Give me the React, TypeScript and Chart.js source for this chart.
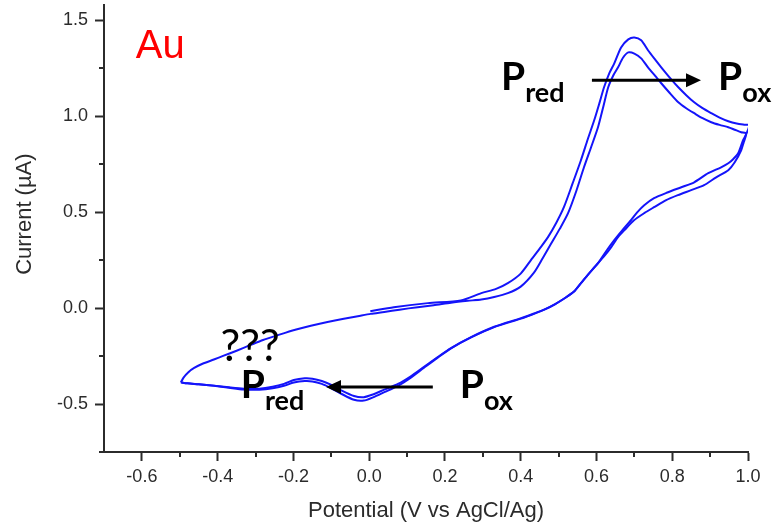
import React, { useEffect, useRef } from 'react';
import { Chart, registerables } from 'chart.js';

Chart.register(...registerables);

// ---- data ----
const cycle1X = [
  0.003, 0.065, 0.155, 0.242, 0.296, 0.335, 0.366, 0.400, 0.427, 0.450, 0.472, 0.494, 0.514, 0.537, 0.559,
  0.577, 0.594, 0.608, 0.620, 0.634, 0.647, 0.665, 0.684, 0.700, 0.718, 0.736, 0.755, 0.771, 0.794, 0.816,
  0.837, 0.858, 0.880, 0.903, 0.925, 0.948, 0.970, 0.990, 1.003,
  0.995, 0.987, 0.974, 0.960, 0.948, 0.929, 0.895, 0.858, 0.824, 0.789, 0.752, 0.726, 0.708, 0.691, 0.668,
  0.647, 0.625, 0.604, 0.580, 0.559, 0.540, 0.515, 0.490, 0.465, 0.435, 0.401, 0.330, 0.269, 0.216, 0.181,
  0.144, 0.110, 0.076, 0.040, 0.010, -0.014, -0.040, -0.075, -0.100, -0.125, -0.150, -0.170, -0.199, -0.225,
  -0.255, -0.290, -0.331, -0.370, -0.410, -0.450, -0.480, -0.497,
];
const cycle1Y = [
  -0.016, 0.005, 0.026, 0.040, 0.078, 0.100, 0.130, 0.180, 0.250, 0.310, 0.370, 0.445, 0.526, 0.650, 0.771,
  0.880, 0.979, 1.070, 1.151, 1.225, 1.276, 1.359, 1.401, 1.411, 1.396, 1.344, 1.295, 1.255, 1.200, 1.151,
  1.110, 1.073, 1.042, 1.016, 0.993, 0.974, 0.962, 0.956, 0.953,
  0.905, 0.875, 0.807, 0.775, 0.755, 0.734, 0.703, 0.656, 0.630, 0.604, 0.573, 0.536, 0.500, 0.458, 0.405,
  0.354, 0.295, 0.234, 0.180, 0.130, 0.085, 0.050, 0.020, -0.005, -0.028, -0.052, -0.097, -0.151, -0.208, -0.255,
  -0.307, -0.355, -0.395, -0.425, -0.450, -0.464, -0.458, -0.427, -0.400, -0.380, -0.368, -0.366, -0.375, -0.395,
  -0.410, -0.420, -0.420, -0.413, -0.404, -0.397, -0.392, -0.387,
];
const cycle2X = [
  -0.497, -0.490, -0.478, -0.462, -0.440, -0.410, -0.384, -0.350, -0.313, -0.280, -0.241, -0.200, -0.154, -0.110,
  -0.067, -0.030, 0.004, 0.040, 0.080, 0.128, 0.170, 0.216, 0.260, 0.296, 0.330, 0.366, 0.400, 0.435, 0.458,
  0.480, 0.503, 0.525, 0.547, 0.567, 0.586, 0.604, 0.618, 0.631, 0.645, 0.657, 0.670, 0.684, 0.700, 0.718,
  0.736, 0.755, 0.771, 0.794, 0.816, 0.837, 0.858, 0.880, 0.903, 0.925, 0.948, 0.965, 0.982, 0.995,
  0.988, 0.982, 0.965, 0.948, 0.916, 0.884, 0.850, 0.815, 0.784, 0.752, 0.726, 0.699, 0.678, 0.657, 0.639,
  0.622, 0.604, 0.580, 0.559, 0.540, 0.515, 0.490, 0.465, 0.435, 0.401, 0.330, 0.269, 0.216, 0.181, 0.144,
  0.110, 0.076, 0.040, 0.010, -0.014, -0.040, -0.075, -0.100, -0.125, -0.150, -0.170, -0.199, -0.225, -0.255,
  -0.290, -0.331, -0.370, -0.410, -0.450, -0.480, -0.497,
];
const cycle2Y = [
  -0.387, -0.362, -0.335, -0.312, -0.290, -0.268, -0.248, -0.222, -0.192, -0.166, -0.141, -0.115, -0.092, -0.072,
  -0.055, -0.042, -0.030, -0.020, -0.008, 0.005, 0.015, 0.028, 0.038, 0.045, 0.058, 0.078, 0.112, 0.185, 0.260,
  0.335, 0.413, 0.495, 0.612, 0.734, 0.840, 0.943, 1.050, 1.151, 1.215, 1.255, 1.305, 1.333, 1.327, 1.302,
  1.255, 1.210, 1.172, 1.120, 1.073, 1.042, 1.016, 0.990, 0.969, 0.955, 0.943, 0.930, 0.917, 0.911,
  0.860, 0.823, 0.760, 0.719, 0.682, 0.641, 0.615, 0.589, 0.563, 0.526, 0.495, 0.458, 0.415, 0.370, 0.318,
  0.275, 0.234, 0.180, 0.130, 0.085, 0.050, 0.020, -0.005, -0.030, -0.055, -0.099, -0.153, -0.210, -0.258, -0.312,
  -0.362, -0.405, -0.438, -0.465, -0.482, -0.478, -0.445, -0.418, -0.395, -0.382, -0.380, -0.388, -0.405, -0.418,
  -0.425, -0.424, -0.415, -0.405, -0.397, -0.392, -0.387,
];

const xTickValues = [-0.6, -0.4, -0.2, 0.0, 0.2, 0.4, 0.6, 0.8, 1.0];
const yTickValues = [-0.5, 0.0, 0.5, 1.0, 1.5];
const xMinorTicks = [-0.5, -0.3, -0.1, 0.1, 0.3, 0.5, 0.7, 0.9];
const yMinorTicks = [-0.75, -0.25, 0.25, 0.75, 1.25];
const xRange = [-0.7, 1.0];
const yRange = [-0.75, 1.58];

const xTitle = 'Potential (V vs AgCl/Ag)';
const yTitle = 'Current (\u00B5A)';
const sampleLabel = 'Au';
const speciesLabels = ['P', 'red', 'ox', '???'];

const SANS = "'Liberation Sans', Arial, sans-serif";
const CAL = "Lato, 'Open Sans', sans-serif";
const AXIS = '#2b2b2b';
const CURVE = 'rgb(20,20,250)';

const decorPlugin = {
  id: 'decor',
  afterDraw(chart: any) {
    const { ctx, chartArea } = chart;
    const xs = chart.scales.x;
    const ys = chart.scales.y;
    const px = (v: number) => xs.getPixelForValue(v);
    const py = (v: number) => ys.getPixelForValue(v);
    ctx.save();

    // minor ticks
    ctx.strokeStyle = AXIS;
    ctx.lineWidth = 2;
    xMinorTicks.forEach((v) => {
      const p = Math.round(px(v));
      ctx.beginPath();
      ctx.moveTo(p, chartArea.bottom);
      ctx.lineTo(p, chartArea.bottom + 5);
      ctx.stroke();
    });
    yMinorTicks.forEach((v) => {
      const p = Math.round(py(v));
      ctx.beginPath();
      ctx.moveTo(chartArea.left - 5, p);
      ctx.lineTo(chartArea.left, p);
      ctx.stroke();
    });

    // y axis title
    ctx.save();
    ctx.translate(25, py(0.49));
    ctx.rotate(-Math.PI / 2);
    ctx.font = `22px ${SANS}`;
    ctx.fillStyle = AXIS;
    ctx.textAlign = 'center';
    ctx.textBaseline = 'middle';
    ctx.fillText(yTitle, 0, 0);
    ctx.restore();

    // sample label
    ctx.font = `40px ${SANS}`;
    ctx.fillStyle = '#ff0000';
    ctx.textAlign = 'left';
    ctx.textBaseline = 'alphabetic';
    ctx.fillText(sampleLabel, px(-0.611) - 2, py(1.302));

    // species labels
    const drawSpecies = (sub: string, xv: number, yv: number) => {
      ctx.fillStyle = '#000';
      ctx.font = `bold 39px ${CAL}`;
      const x0 = px(xv) - 3;
      const y0 = py(yv);
      ctx.fillText(speciesLabels[0], x0, y0);
      const w = ctx.measureText(speciesLabels[0]).width;
      ctx.font = `bold 27px ${CAL}`;
      ctx.fillText(sub, x0 + w, y0 + 12);
    };
    drawSpecies(speciesLabels[1], 0.356, 1.135);
    drawSpecies(speciesLabels[2], 0.929, 1.135);
    drawSpecies(speciesLabels[1], -0.331, -0.469);
    drawSpecies(speciesLabels[2], 0.247, -0.469);

    ctx.font = `44px ${CAL}`;
    ctx.fillStyle = '#000';
    ctx.fillText(speciesLabels[3], px(-0.387) - 2, py(-0.276));

    // arrows
    const arrow = (x1: number, x2: number, yv: number) => {
      const a = px(x1);
      const b = px(x2);
      const yy = py(yv);
      const dir = Math.sign(b - a);
      const head = 15;
      ctx.strokeStyle = '#000';
      ctx.lineWidth = 3;
      ctx.beginPath();
      ctx.moveTo(a, yy);
      ctx.lineTo(b - dir * head, yy);
      ctx.stroke();
      ctx.fillStyle = '#000';
      ctx.beginPath();
      ctx.moveTo(b, yy);
      ctx.lineTo(b - dir * head, yy - 7);
      ctx.lineTo(b - dir * head, yy + 7);
      ctx.closePath();
      ctx.fill();
    };
    arrow(0.588, 0.876, 1.1875);
    arrow(0.168, -0.114, -0.411);

    ctx.restore();
  },
};

export default function App() {
  const ref = useRef<HTMLCanvasElement>(null);

  useEffect(() => {
    if (!ref.current) return;
    const lineStyle = {
      showLine: true,
      borderColor: CURVE,
      backgroundColor: CURVE,
      borderWidth: 2,
      pointRadius: 0,
      tension: 0.25,
      fill: false,
    };
    const chart = new Chart(ref.current, {
      type: 'scatter',
      data: {
        datasets: [
          { ...lineStyle, data: cycle1X.map((v, i) => ({ x: v, y: cycle1Y[i] })) },
          { ...lineStyle, data: cycle2X.map((v, i) => ({ x: v, y: cycle2Y[i] })) },
        ],
      },
      options: {
        animation: false,
        responsive: false,
        devicePixelRatio: 1,
        layout: { padding: { left: 0, top: 5, right: 27, bottom: 0 } },
        plugins: { legend: { display: false }, tooltip: { enabled: false } },
        scales: {
          x: {
            type: 'linear',
            min: xRange[0],
            max: xRange[1],
            afterBuildTicks: (s: any) => {
              s.ticks = xTickValues.map((v) => ({ value: v }));
            },
            afterFit: (s: any) => {
              s.height = 73;
              s.paddingLeft = 0;
              s.paddingRight = 0;
            },
            ticks: {
              autoSkip: false,
              maxRotation: 0,
              padding: 5,
              color: AXIS,
              font: { size: 18, family: SANS },
              callback: (v: any) => Number(v).toFixed(1),
            },
            grid: {
              drawOnChartArea: false,
              drawTicks: true,
              tickLength: 9,
              tickWidth: 2,
              tickColor: AXIS,
              color: AXIS,
            },
            border: { display: true, color: AXIS, width: 2 },
            title: {
              display: true,
              text: xTitle,
              color: AXIS,
              font: { size: 22, family: SANS },
              padding: { top: 0, bottom: 1 },
            },
          },
          y: {
            type: 'linear',
            min: yRange[0],
            max: yRange[1],
            afterBuildTicks: (s: any) => {
              s.ticks = yTickValues.map((v) => ({ value: v }));
            },
            afterFit: (s: any) => {
              s.width = 104;
              s.paddingTop = 0;
              s.paddingBottom = 0;
            },
            ticks: {
              autoSkip: false,
              padding: 7,
              color: AXIS,
              font: { size: 18, family: SANS },
              callback: (v: any) => Number(v).toFixed(1),
            },
            grid: {
              drawOnChartArea: false,
              drawTicks: true,
              tickLength: 9,
              tickWidth: 2,
              tickColor: AXIS,
              color: AXIS,
            },
            border: { display: true, color: AXIS, width: 2 },
          },
        },
      },
      plugins: [decorPlugin],
    });
    return () => chart.destroy();
  }, []);

  return (
    <div style={{ position: 'fixed', left: 0, top: 0, width: 775, height: 525, background: '#fff' }}>
      <canvas ref={ref} width={775} height={525} style={{ display: 'block', width: 775, height: 525 }} />
    </div>
  );
}
